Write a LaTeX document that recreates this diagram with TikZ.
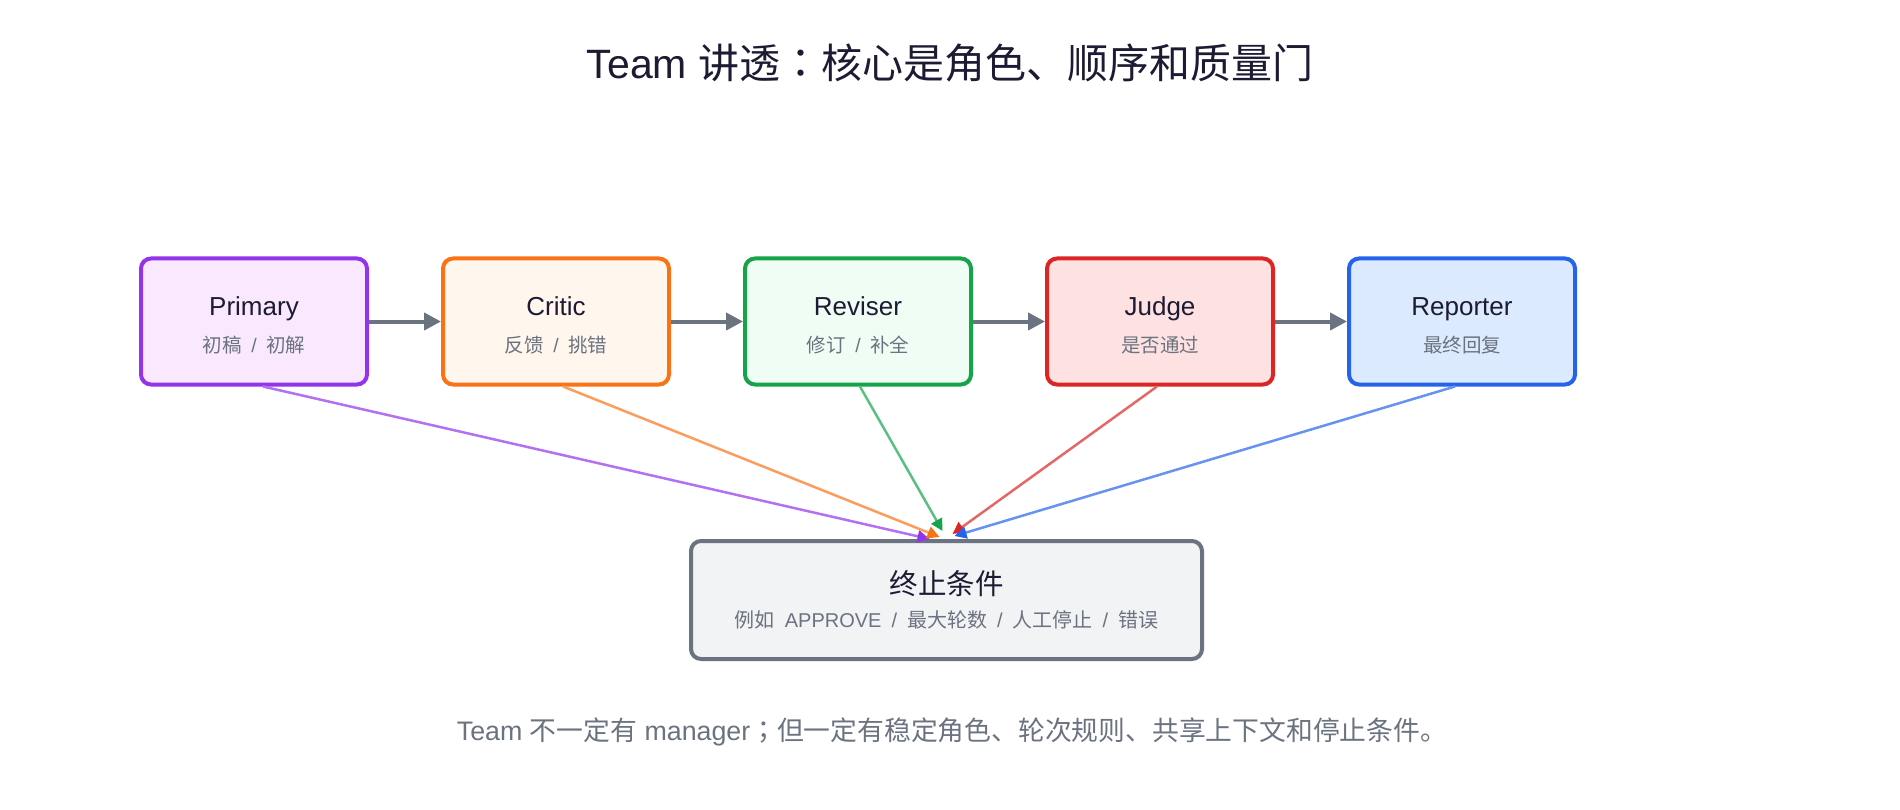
\documentclass[tikz,border=0pt]{standalone}
\usepackage{fontspec}
\setmainfont{Liberation Sans}
\newfontfamily\cjk{Noto Sans CJK SC}
\newfontfamily\cjkmid{Noto Sans CJK JP}
\usepackage{xcolor}
\usetikzlibrary{arrows.meta,positioning}
\definecolor{ink}{HTML}{1C1B33}
\definecolor{muted}{HTML}{6B7280}
\definecolor{primary}{HTML}{9333EA}
\definecolor{primarybg}{HTML}{FAE8FF}
\definecolor{critic}{HTML}{F97316}
\definecolor{criticbg}{HTML}{FFF7ED}
\definecolor{reviser}{HTML}{16A34A}
\definecolor{reviserbg}{HTML}{F0FDF4}
\definecolor{judge}{HTML}{DC2626}
\definecolor{judgebg}{HTML}{FEE2E2}
\definecolor{reporter}{HTML}{2563EB}
\definecolor{reporterbg}{HTML}{DBEAFE}
\definecolor{stopbg}{HTML}{F2F3F5}
\newcommand{\subtxt}[2][19.5]{{\fontsize{#1}{#1}\selectfont\color{muted}#2}}
\newcommand{\gap}{\hspace{0.5em}}
\newcommand{\sepslash}{\gap/\gap}
\newcommand{\toprow}{\rule{0pt}{27pt}}

\begin{document}
\begin{tikzpicture}[
  x=1pt,y=-1pt,
  agent/.style={draw=#1,fill=#1bg,line width=4pt,rounded corners=10pt,minimum width=226pt,minimum height=126pt,align=center,text=ink,font=\fontsize{26}{31}\selectfont},
  stopbox/.style={draw=muted,fill=stopbg,line width=4pt,rounded corners=10pt,minimum width=511pt,minimum height=118pt,align=center,text=ink,font=\fontsize{28.5}{31}\selectfont},
  flow/.style={-{Triangle[length=17pt,width=17pt]},line width=4pt,draw=muted},
  conv/.style={-{Triangle[length=12pt,width=12pt,color=#1]},line width=2.5pt,draw=#1!70!white}
]
\useasboundingbox (0,0) rectangle (1900,810);
\node[font=\fontsize{41}{48}\selectfont,text=ink] (title) at (950,63) {Team {\cjk 讲透}{\cjkmid ：}{\cjk 核心是角色、顺序和质量门}};
\node[agent=primary] (primary) at (254,321.5) {\toprow Primary\\[5.5pt]\subtxt{{\cjk 初稿}\sepslash{\cjk 初解}}};
\node[agent=critic,right=72pt of primary] (critic) {\toprow Critic\\[5.5pt]\subtxt{{\cjk 反馈}\sepslash{\cjk 挑错}}};
\node[agent=reviser,right=72pt of critic] (reviser) {\toprow Reviser\\[5.5pt]\subtxt{{\cjk 修订}\sepslash{\cjk 补全}}};
\node[agent=judge,right=72pt of reviser] (judge) {\toprow Judge\\[5.5pt]\subtxt{\cjk 是否通过}};
\node[agent=reporter,right=72pt of judge] (reporter) {\toprow Reporter\\[5.5pt]\subtxt{\cjk 最终回复}};
\node[stopbox] (stop) at (946.5,600) {{\cjk 终止条件}\\[2pt]\subtxt[20]{{\cjk 例如}\gap APPROVE\sepslash{\cjk 最大轮数}\sepslash{\cjk 人工停止}\sepslash{\cjk 错误}}};
\node[font=\fontsize{26.8}{30}\selectfont,text=muted] (note) at (952,732) {Team {\cjk 不一定有} manager{\cjkmid ；}{\cjk 但一定有稳定角色、轮次规则、共享上下文和停止条件。}};
\draw[flow] (primary) -- (critic);
\draw[flow] (critic) -- (reviser);
\draw[flow] (reviser) -- (judge);
\draw[flow] (judge) -- (reporter);
\draw[conv=primary] ([xshift=9pt]primary.south) -- ([xshift=-17pt]stop.north);
\draw[conv=critic] ([xshift=7pt]critic.south) -- ([xshift=-7pt,yshift=2pt]stop.north);
\draw[conv=reviser] ([xshift=2pt]reviser.south) -- ([xshift=-4pt,yshift=8pt]stop.north);
\draw[conv=judge] ([xshift=-3pt]judge.south) -- ([xshift=6pt,yshift=5pt]stop.north);
\draw[conv=reporter] ([xshift=-7pt]reporter.south) -- ([xshift=8pt,yshift=3pt]stop.north);
\end{tikzpicture}
\end{document}
